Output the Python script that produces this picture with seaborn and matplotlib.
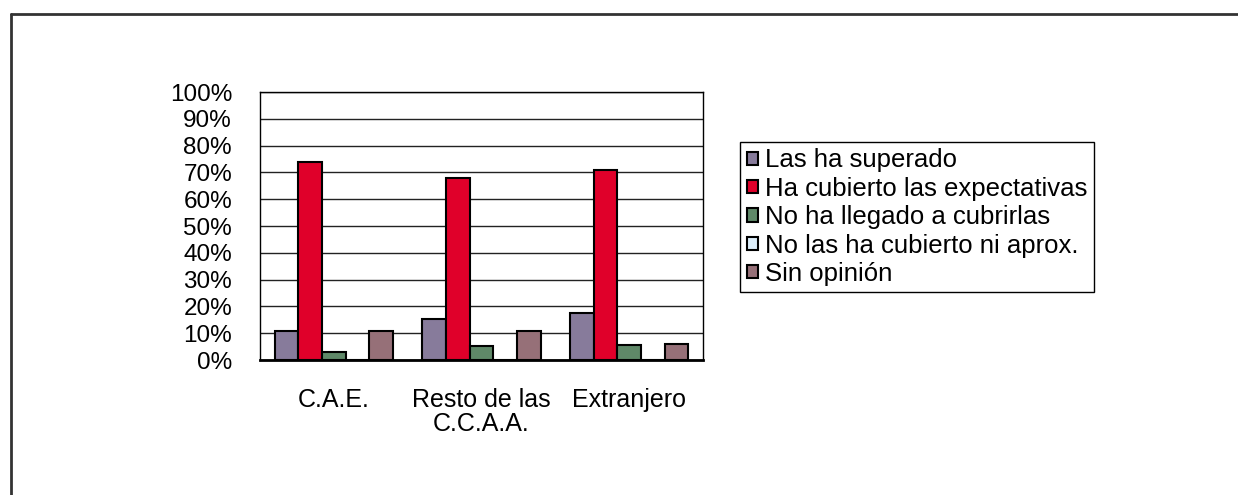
import matplotlib
matplotlib.use("Agg")
import matplotlib.pyplot as plt
from matplotlib.patches import Patch
from matplotlib.lines import Line2D
import pandas as pd
import seaborn as sns

categories = ["C.A.E.", "Resto de las\nC.C.A.A.", "Extranjero"]
series = ["Las ha superado", "Ha cubierto las expectativas",
          "No ha llegado a cubrirlas", "No las ha cubierto ni aprox.",
          "Sin opinión"]
superado = [10.7, 15.4, 17.7]
cubierto = [74.0, 67.8, 70.9]
no_llegado = [3.1, 5.3, 5.5]
ni_aprox = [0.0, 0.0, 0.0]
sin_opinion = [10.7, 10.7, 6.1]
yticks = list(range(0, 101, 10))

colors = ["#877B9B", "#E0002A", "#5F8868", "#DCEEFA", "#967078"]


def build_frame():
    values = [superado, cubierto, no_llegado, ni_aprox, sin_opinion]
    rows = []
    for s, vals in zip(series, values):
        for c, v in zip(categories, vals):
            rows.append({"cat": c, "serie": s, "valor": v})
    return pd.DataFrame(rows)


def main():
    sns.set_style("white")
    plt.rcParams["font.family"] = ["Liberation Sans", "DejaVu Sans"]
    plt.rcParams["text.color"] = "black"
    plt.rcParams["xtick.color"] = "black"
    plt.rcParams["ytick.color"] = "black"

    df = build_frame()
    fig = plt.figure(figsize=(12.38, 4.95), dpi=100)
    ax = fig.add_axes([0.210, 0.2727, 0.358, 0.5414])

    sns.barplot(data=df, x="cat", y="valor", hue="serie", order=categories,
                hue_order=series, palette=colors, width=0.8, saturation=1,
                edgecolor="black", linewidth=1.5, ax=ax, legend=False)

    ax.set_ylim(0, 100)
    ax.set_xlim(-0.5, 2.5)
    ax.set_yticks(yticks)
    ax.set_yticklabels([f"{t}%" for t in yticks], fontsize=17.5)
    ax.tick_params(axis="y", length=3.6, width=1, direction="out", pad=16.5)
    ax.tick_params(axis="x", length=0, labelsize=18, pad=20)
    for lbl in ax.get_xticklabels():
        lbl.set_linespacing(1.0)
    ax.set_xlabel("")
    ax.set_ylabel("")
    ax.yaxis.grid(True, color="#222222", linewidth=1)
    ax.set_axisbelow(True)
    for sp in ax.spines.values():
        sp.set_visible(True)
        sp.set_color("black")
        sp.set_linewidth(1)
    ax.spines["bottom"].set_linewidth(2)

    handles = [Patch(facecolor=c, edgecolor="black", linewidth=1.5) for c in colors]
    leg = fig.legend(handles, series, loc="upper left",
                     bbox_to_anchor=(0.598, 0.713), fontsize=18.5,
                     handlelength=0.42, handleheight=0.42, handletextpad=0.3,
                     labelspacing=0.17, borderpad=0.25, borderaxespad=0,
                     fancybox=False, framealpha=1, edgecolor="black")
    leg.get_frame().set_linewidth(1)

    # outer frame (only left and top edges fall inside the image)
    fig.add_artist(Line2D([11 / 1238, 11 / 1238], [0, 1 - 14 / 495],
                          color="#333333", linewidth=2))
    fig.add_artist(Line2D([11 / 1238, 1], [1 - 14 / 495, 1 - 14 / 495],
                          color="#333333", linewidth=2))

    fig.savefig("out.png", dpi=100)


if __name__ == '__main__':
    main()
